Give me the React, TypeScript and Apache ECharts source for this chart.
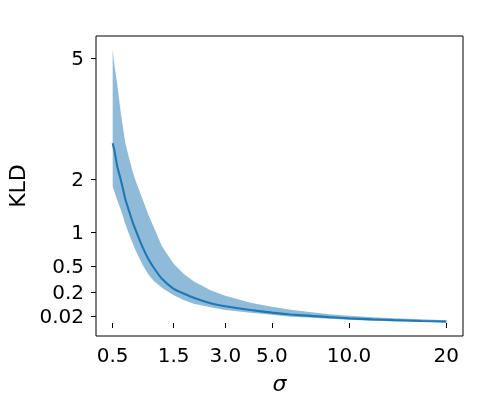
import React, { useEffect, useRef } from "react";
import * as echarts from "echarts";

// sigma sample points and KLD statistics
const sigmaValues = [0.5, 0.52, 0.55, 0.6, 0.65, 0.7, 0.75, 0.8, 0.9, 1.0, 1.1, 1.25, 1.5, 1.75, 2.0, 2.5, 3.0, 4.0, 5.0, 6.0, 7.0, 8.5, 10, 12, 14, 17, 20];
const kldMean = [2.795, 2.617, 2.281, 1.941, 1.6, 1.373, 1.175, 1.021, 0.766, 0.591, 0.47, 0.3414, 0.2323, 0.1832, 0.1468, 0.1014, 0.0791, 0.0543, 0.0388, 0.0286, 0.0232, 0.0165, 0.0117, 0.00815, 0.00564, 0.00344, 0.00186];
const kldUpper = [5.238, 4.784, 4.29, 3.431, 2.802, 2.458, 2.162, 1.941, 1.6, 1.3, 1.072, 0.781, 0.5295, 0.395, 0.3129, 0.2172, 0.1647, 0.1053, 0.0756, 0.0556, 0.0434, 0.0307, 0.0223, 0.0165, 0.0125, 0.00815, 0.00506];
const kldLower = [1.844, 1.738, 1.581, 1.373, 1.14, 0.971, 0.827, 0.706, 0.516, 0.389, 0.3129, 0.2426, 0.1693, 0.1255, 0.0976, 0.0721, 0.0543, 0.0388, 0.0271, 0.0187, 0.0148, 0.00987, 0.00655, 0.00422, 0.0025, 0.00128, 0.00062];

const xTickValues = [0.5, 1.5, 3.0, 5.0, 10.0, 20];
const xTickLabels = ["0.5", "1.5", "3.0", "5.0", "10.0", "20"];
const yTickValues = [0.02, 0.2, 0.5, 1, 2, 5];
const yTickLabels = ["0.02", "0.2", "0.5", "1", "2", "5"];

// axis scale transforms (x: cube root, y: power 2/3)
const fx = (s: number) => Math.cbrt(s);
const fy = (v: number) => Math.pow(v, 2 / 3);

const FONT = "DejaVu Sans";

export default function App() {
  const ref = useRef<HTMLDivElement>(null);
  useEffect(() => {
    if (!ref.current) return;
    const chart = echarts.init(ref.current, null, { renderer: "svg" });
    const xs = sigmaValues.map(fx);
    const lowerT = kldLower.map(fy);
    const upperT = kldUpper.map(fy);
    const meanT = kldMean.map(fy);
    const xTickPos = xTickValues.map(fx);
    const yTickPos = yTickValues.map(fy);
    const xSpan = xs[xs.length - 1] - xs[0];
    const yMinD = Math.min(...lowerT);
    const yMaxD = Math.max(...upperT);
    const ySpan = yMaxD - yMinD;
    const findLabel = (val: number, pos: number[], labels: string[]) => {
      for (let i = 0; i < pos.length; i++) if (Math.abs(pos[i] - val) < 1e-6) return labels[i];
      return "";
    };
    const bandRows = xs.map((x, i) => [x, lowerT[i], upperT[i]]);
    chart.setOption({
      animation: false,
      grid: {
        left: 96,
        right: 38,
        top: 36,
        bottom: 64,
        show: true,
        borderColor: "#000",
        borderWidth: 1,
        backgroundColor: "transparent",
        outerBoundsMode: "none",
        containLabel: false,
      },
      xAxis: {
        type: "value",
        min: xs[0] - 0.05 * xSpan,
        max: xs[xs.length - 1] + 0.05 * xSpan,
        name: "σ",
        nameLocation: "middle",
        nameGap: 36,
        nameTextStyle: { fontFamily: FONT, fontSize: 22, fontStyle: "italic", color: "#000" },
        axisLine: { show: false },
        axisTick: { show: true, length: 5, lineStyle: { color: "#000", width: 1 }, customValues: xTickPos },
        axisLabel: {
          fontFamily: FONT,
          fontSize: 20,
          color: "#000",
          margin: 9,
          customValues: xTickPos,
          formatter: (v: number) => findLabel(v, xTickPos, xTickLabels),
        },
        splitLine: { show: false },
      },
      yAxis: {
        type: "value",
        min: yMinD - 0.05 * ySpan,
        max: yMaxD + 0.05 * ySpan,
        name: "KLD",
        nameLocation: "middle",
        nameGap: 67,
        nameTextStyle: { fontFamily: FONT, fontSize: 22, color: "#000" },
        axisLine: { show: false },
        axisTick: { show: true, length: 5, lineStyle: { color: "#000", width: 1 }, customValues: yTickPos },
        axisLabel: {
          fontFamily: FONT,
          fontSize: 20,
          color: "#000",
          margin: 12,
          customValues: yTickPos,
          formatter: (v: number) => findLabel(v, yTickPos, yTickLabels),
        },
        splitLine: { show: false },
      },
      series: [
        {
          type: "custom",
          name: "band",
          data: bandRows,
          silent: true,
          renderItem: (params: any, api: any) => {
            if (params.dataIndex !== 0) return null;
            const top = bandRows.map((r) => api.coord([r[0], r[2]]));
            const bottom = bandRows.map((r) => api.coord([r[0], r[1]])).reverse();
            return {
              type: "polygon",
              shape: { points: top.concat(bottom) },
              style: { fill: "#1f77b4", opacity: 0.5 },
            };
          },
        },
        {
          type: "line",
          name: "mean",
          data: xs.map((x, i) => [x, meanT[i]]),
          symbol: "none",
          smooth: 0.15,
          lineStyle: { color: "#1f77b4", width: 2.1 },
          z: 3,
        },
      ],
    });
    return () => chart.dispose();
  }, []);
  return <div ref={ref} style={{ position: "fixed", left: 0, top: 0, width: 501, height: 400 }} />;
}
